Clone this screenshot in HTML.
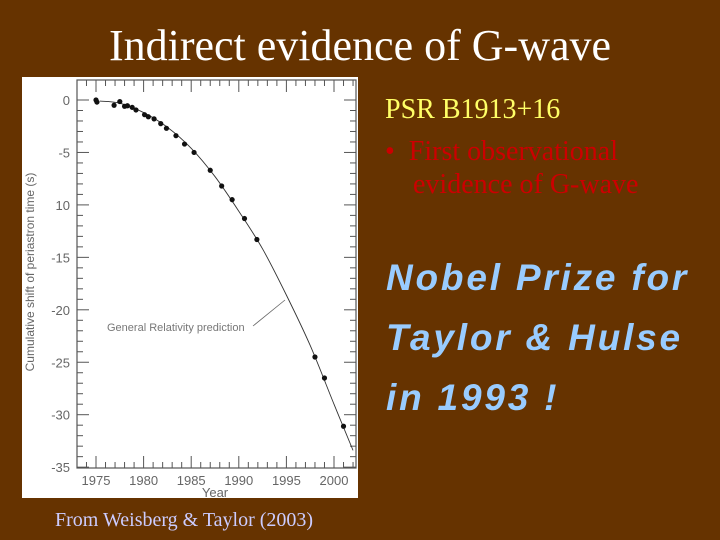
<!DOCTYPE html>
<html><head><meta charset="utf-8"><style>
html,body{margin:0;padding:0;}
body{width:720px;height:540px;background:#663300;position:relative;overflow:hidden;font-family:"Liberation Serif",serif;}
.abs{position:absolute;white-space:nowrap;}
</style></head><body>
<div class="abs" style="left:0;width:720px;text-align:center;top:20px;font-size:44px;color:#fff;">Indirect evidence of G-wave</div>
<svg class="abs" style="left:0;top:0" width="720" height="540">
<rect x="22" y="77" width="336" height="421" fill="#fff"/>
<g id="g"></g>
</svg>
<div class="abs" style="left:385px;top:94px;font-size:28px;color:#ffff66;">PSR B1913+16</div>
<div class="abs" style="left:385px;top:135px;font-size:28px;color:#cc0000;line-height:33px;">•&nbsp;&nbsp;First observational<br>&nbsp;&nbsp;&nbsp;&nbsp;evidence of G-wave</div>
<div class="abs" style="left:386px;top:248px;font-family:'Liberation Sans',sans-serif;font-weight:bold;font-style:italic;font-size:37px;letter-spacing:2.8px;line-height:60px;color:#99ccff;">Nobel Prize for<br>Taylor &amp; Hulse<br>in 1993 !</div>
<div class="abs" style="left:55px;top:509px;font-size:20px;color:#ccccff;">From Weisberg &amp; Taylor (2003)</div>
<script>
const dataYears=[1975.0,1975.1,1976.9,1977.5,1978.0,1978.3,1978.8,1979.2,1980.1,1980.5,1981.1,1981.8,1982.4,1983.4,1984.3,1985.3,1987.0,1988.2,1989.3,1990.6,1991.9,1998.0,1999.0,2001.0];
const dataShift=[0,-0.2,-0.5,-0.15,-0.6,-0.55,-0.7,-0.95,-1.4,-1.6,-1.8,-2.25,-2.7,-3.4,-4.2,-5.0,-6.7,-8.2,-9.5,-11.3,-13.3,-24.5,-26.5,-31.1];
const curveYears=[1975.4,1977.5,1980,1982.5,1985,1987.5,1990,1992.5,1995,1997.5,2000,2002];
const curveShift=[-0.1,-0.3,-1.2,-2.6,-4.6,-7.3,-10.6,-14.2,-18.6,-23.4,-29,-33.4];
const xTicks=[1975,1980,1985,1990,1995,2000];
const yTicks=[0,-5,-10,-15,-20,-25,-30,-35];
const yTickLabels=["0","-5","10","-15","-20","-25","-30","-35"];
const L=77,R=356,T=80,B=468;
const X=v=>96+(v-1975)*9.52;
const Y=v=>100-v*10.49;
const g=document.getElementById('g');
const NS='http://www.w3.org/2000/svg';
function mk(t,a){const e=document.createElementNS(NS,t);for(const k in a)e.setAttribute(k,a[k]);g.appendChild(e);return e;}
let fr=mk('rect',{x:L,y:T,width:R-L,height:B-T,fill:'none',stroke:'#555','stroke-width':1.2});


for(let v=0;v>=-35;v--){const maj=v%5===0;const len=maj?12:6;
 mk('line',{x1:L,x2:L+len,y1:Y(v),y2:Y(v),stroke:'#555'});
 mk('line',{x1:R,x2:R-len,y1:Y(v),y2:Y(v),stroke:'#555'});}
for(let v=1973;v<=2002;v++){const x=X(v);if(x<L||x>R)continue;const maj=v%5===0;const len=maj?12:6;
 mk('line',{x1:x,x2:x,y1:B,y2:B-len,stroke:'#555'});
 mk('line',{x1:x,x2:x,y1:T,y2:T+len,stroke:'#555'});}
xTicks.forEach(v=>{const t=mk('text',{x:X(v),y:B+17,'font-size':13,'text-anchor':'middle',fill:'#666','font-family':'Liberation Sans,sans-serif'});t.textContent=v;
 
 });
yTicks.forEach((v,i)=>{const t=mk('text',{x:70,y:Y(v)+5,'font-size':13,'text-anchor':'end',fill:'#666','font-family':'Liberation Sans,sans-serif'});t.textContent=yTickLabels[i];
 
 });
let xt=mk('text',{x:X(1987.5),y:497,'font-size':13,'text-anchor':'middle',fill:'#666','font-family':'Liberation Sans,sans-serif'});xt.textContent='Year';


let yt=mk('text',{x:0,y:0,'font-size':12,'text-anchor':'middle',fill:'#666','font-family':'Liberation Sans,sans-serif',transform:'translate(34,272) rotate(-90)'});yt.textContent='Cumulative shift of periastron time (s)';


let pts=curveYears.map((v,i)=>[X(v),Y(curveShift[i])]);
let d='M'+pts[0].join(',');
for(let i=0;i<pts.length-1;i++){const p0=pts[Math.max(i-1,0)],p1=pts[i],p2=pts[i+1],p3=pts[Math.min(i+2,pts.length-1)];
 d+=' C'+(p1[0]+(p2[0]-p0[0])/6)+','+(p1[1]+(p2[1]-p0[1])/6)+' '+(p2[0]-(p3[0]-p1[0])/6)+','+(p2[1]-(p3[1]-p1[1])/6)+' '+p2[0]+','+p2[1];}
let c=mk('path',{d:d,fill:'none',stroke:'#333','stroke-width':0.9});


dataYears.forEach((v,i)=>{const p=mk('circle',{cx:X(v),cy:Y(dataShift[i]),r:2.6,fill:'#111'});
 
 });
let ln=mk('line',{x1:253,y1:326,x2:285,y2:300,stroke:'#666','stroke-width':0.8});


let at=mk('text',{x:107,y:331,'font-size':11,fill:'#777','font-family':'Liberation Sans,sans-serif'});at.textContent='General Relativity prediction';


</script>
</body></html>
